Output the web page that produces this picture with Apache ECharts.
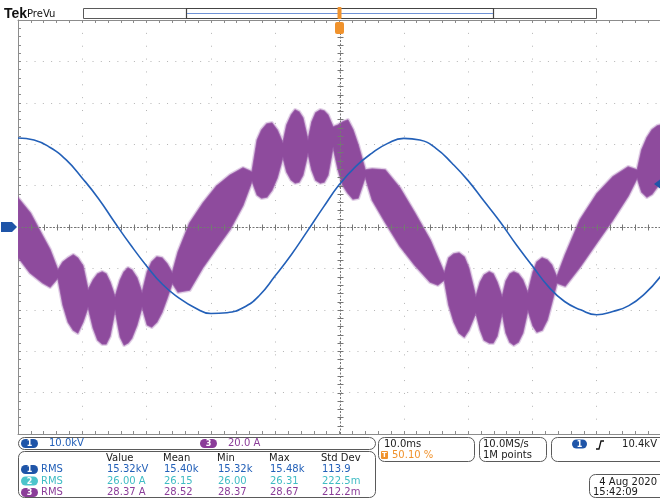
<!DOCTYPE html>
<html>
<head>
<meta charset="utf-8">
<script src="https://cdn.jsdelivr.net/npm/echarts@6/dist/echarts.min.js"></script>
<style>
  html, body { margin: 0; padding: 0; background: #fff; }
  #scope { width: 660px; height: 500px; }
</style>
</head>
<body>
<div id="scope"></div>
<script>
// ---- Channel 1: voltage trace (kV), 2.5 ms sample spacing ----
const ch1Time = [-50, -47.5, -45, -42.5, -40, -37.5, -35, -32.5, -30, -27.5, -25, -22.5, -20, -17.5, -15, -12.5, -10, -7.5, -5, -2.5,
  0, 2.5, 5, 7.5, 10, 12.5, 15, 17.5, 20, 22.5, 25, 27.5, 30, 32.5, 35, 37.5, 40, 42.5, 45, 47.5, 50];
const ch1Kv = [21.5, 21.0, 19.2, 16.2, 11.8, 6.9, 1.2, -4.3, -9.4, -13.9, -17.1, -19.5, -20.9, -20.7, -19.5, -16.6, -11.8, -6.7, -1.0, 4.8,
  10.3, 14.6, 17.8, 20.2, 21.4, 21.0, 19.0, 15.4, 11.2, 6.2, 1.2, -4.3, -9.4, -14.4, -18.0, -20.0, -21.2, -20.4, -19.0, -16.1, -11.8];

// ---- Channel 3: current with switching ripple, upper / lower envelope (A) ----
const ch3Time = [
  -50.0, -48.1, -46.1, -45.0,
  -43.8, -43.0, -42.2, -41.4, -40.7, -39.9, -39.1,
  -38.3, -37.6, -36.9, -36.3, -35.7, -34.9,
  -34.1, -33.5, -32.9, -32.3, -31.5, -30.7,
  -29.9, -29.2, -28.4, -27.6, -26.8, -26.0,
  -25.1, -23.3, -21.2, -19.1, -17.0, -15.0, -13.6,
  -12.8, -12.1, -11.3, -10.5, -9.7, -8.8,
  -8.2, -7.5, -6.9, -6.3, -5.7, -4.9,
  -4.3, -3.7, -3.0, -2.4, -1.8, -1.0,
  -0.2, 0.5, 1.3, 2.1, 2.9, 4.0,
  5.1, 7.1, 9.4, 11.7, 14.1, 15.3, 16.3,
  17.0, 17.8, 18.6, 19.4, 20.1, 21.2,
  21.9, 22.5, 23.3, 23.9, 24.5, 25.3,
  25.9, 26.5, 27.1, 27.8, 28.5, 29.3,
  30.1, 30.7, 31.5, 32.3, 33.0, 33.8,
  35.1, 37.4, 40.0, 42.5, 44.9, 46.3,
  47.0, 47.8, 48.6, 49.4, 50.0];
const ch3Upper = [
  14.0, 6.8, -4.8, -11.1,
  -20.8, -16.9, -15.0, -13.5, -15.0, -18.8, -30.4,
  -25.6, -22.7, -21.7, -22.7, -26.6, -33.8,
  -25.6, -21.7, -19.8, -20.8, -24.6, -31.9,
  -21.7, -16.9, -14.5, -15.0, -17.9, -22.2,
  -12.1, 1.9, 11.6, 19.8, 25.1, 28.5, 26.6,
  42.0, 46.9, 49.8, 50.2, 46.9, 40.6,
  49.3, 54.1, 56.5, 55.6, 52.7, 42.0,
  50.7, 55.1, 56.5, 56.0, 54.1, 48.3,
  49.3, 50.7, 51.7, 46.9, 39.6, 27.5,
  28.0, 27.5, 18.8, 6.8, -6.3, -15.0, -22.2,
  -15.0, -13.0, -12.6, -14.5, -19.8, -33.8,
  -26.6, -23.2, -21.7, -22.7, -26.6, -33.8,
  -26.1, -22.7, -21.7, -22.7, -25.6, -31.9,
  -21.7, -16.9, -15.0, -15.9, -18.4, -24.2,
  -13.5, 3.4, 15.9, 24.2, 29.0, 27.5,
  37.2, 43.0, 46.9, 48.8, 49.3];
const ch3Lower = [
  -14.5, -22.2, -27.1, -29.0,
  -24.6, -37.7, -45.9, -49.8, -51.2, -45.9, -38.6,
  -48.8, -54.6, -56.5, -56.5, -52.7, -40.1,
  -53.1, -57.0, -56.0, -53.6, -47.3, -38.6,
  -47.3, -48.3, -45.9, -41.1, -34.3, -27.1,
  -31.4, -30.4, -19.3, -10.1, -1.0, 10.6, 22.2,
  15.5, 14.0, 14.5, 17.9, 23.7, 33.8,
  26.6, 22.7, 21.3, 21.7, 25.1, 35.7,
  27.5, 22.7, 21.3, 21.7, 25.1, 38.6,
  27.5, 20.3, 16.4, 13.5, 14.0, 24.2,
  13.0, 2.4, -9.2, -18.4, -26.6, -28.0, -25.6,
  -37.7, -45.9, -51.2, -53.1, -49.8, -41.5,
  -49.8, -54.6, -56.0, -56.0, -52.7, -41.5,
  -51.2, -55.6, -57.0, -55.6, -51.2, -40.1,
  -47.8, -50.7, -49.8, -44.9, -36.7, -27.1,
  -28.5, -19.3, -7.7, 3.4, 15.0, 23.7,
  16.9, 14.5, 15.9, 19.3, 22.7];

// ---- Readouts ----
const measHeaders = ['Value', 'Mean', 'Min', 'Max', 'Std Dev'];
const measCh1 = ['15.32kV', '15.40k', '15.32k', '15.48k', '113.9'];
const measCh2 = ['26.00 A', '26.15', '26.00', '26.31', '222.5m'];
const measCh3 = ['28.37 A', '28.52', '28.37', '28.67', '212.2m'];
const ch1Scale = '10.0kV';
const ch3Scale = '20.0 A';
const timeScale = '10.0ms';
const triggerPos = '50.10 %';
const sampleRate = '10.0MS/s';
const recordLen = '1M points';
const triggerLevelText = '10.4kV';
const triggerLevel = 10.4;
const dateText = '4 Aug 2020';
const timeText = '15:42:09';

const BLUE = '#2360b8', CYAN = '#3fbcc4', PURPLE = '#8b3d99', ORANGE = '#f0922c';
const FONT = '10px "DejaVu Sans", sans-serif';
const R = { left: 18, top: 20, width: 643, height: 414 };
// graticule: 10 x 10 divisions, 5 subdivisions each
const X_MIN = -50, X_MAX = 50, X_DIV = 10;   // ms
const V_MIN = -50, V_MAX = 50, V_DIV = 10;   // kV (channel 1)
const SUBDIV = 5;

const chart = echarts.init(document.getElementById('scope'), null, { renderer: 'canvas' });

const BORDER = '#8c8c8c', CENTER = '#767676';
function borderAxis(extra) {
  return Object.assign({
    type: 'value',
    axisLabel: { show: false },
    axisLine: { show: true, onZero: false, lineStyle: { color: BORDER, width: 1 } },
    axisTick: { show: true, inside: true, length: 3, lineStyle: { color: BORDER } },
    minorTick: { show: true, splitNumber: SUBDIV, length: 3, lineStyle: { color: BORDER } },
    splitLine: { show: false }
  }, extra);
}

// centre cross-hair with subdivision ticks, placed through the axis scales
function renderCenterCross(params, api) {
  if (params.dataIndex !== 0) return null;
  const children = [];
  const lineStyle = { stroke: CENTER, lineWidth: 1, lineDash: [2, 1.5] };
  const tickStyle = { stroke: CENTER, lineWidth: 1 };
  const h0 = api.coord([X_MIN, 0]), h1 = api.coord([X_MAX, 0]);
  const v0 = api.coord([0, V_MIN]), v1 = api.coord([0, V_MAX]);
  const yc = Math.round(h0[1]) + 0.5, xc = Math.round(v0[0]) + 0.5;
  children.push({ type: 'line', shape: { x1: h0[0], y1: yc, x2: h1[0], y2: yc }, style: lineStyle });
  children.push({ type: 'line', shape: { x1: xc, y1: v0[1], x2: xc, y2: v1[1] }, style: lineStyle });
  const xStep = X_DIV / SUBDIV, vStep = V_DIV / SUBDIV;
  for (let k = 1; k < (X_MAX - X_MIN) / xStep; k++) {
    const p = api.coord([X_MIN + k * xStep, 0]);
    const x = Math.round(p[0]) + 0.5;
    children.push({ type: 'line', shape: { x1: x, y1: yc - 3, x2: x, y2: yc + 3 }, style: tickStyle });
  }
  for (let k = 1; k < (V_MAX - V_MIN) / vStep; k++) {
    const p = api.coord([0, V_MIN + k * vStep]);
    const y = Math.round(p[1]) + 0.5;
    children.push({ type: 'line', shape: { x1: xc - 3, y1: y, x2: xc + 3, y2: y }, style: tickStyle });
  }
  return { type: 'group', children: children };
}

// current envelope: soft outer fringe + solid body
function renderEnvelope(params, api) {
  if (params.dataIndex !== 0) return null;
  const top = ch3Time.map((t, i) => api.coord([t, ch3Upper[i]]));
  const bottom = ch3Time.map((t, i) => api.coord([t, ch3Lower[i]])).reverse();
  const pts = top.concat(bottom);
  return {
    type: 'group',
    children: [
      { type: 'polygon', shape: { points: pts },
        style: { fill: 'none', stroke: 'rgba(150, 90, 170, 0.28)', lineWidth: 4, lineJoin: 'round' } },
      { type: 'polygon', shape: { points: pts },
        style: { fill: '#8e4b9d', stroke: 'rgba(146, 80, 162, 0.75)', lineWidth: 1.5, lineJoin: 'round' } }
    ]
  };
}

const option = {
  animation: false,
  backgroundColor: '#ffffff',
  grid: [{ left: R.left, top: R.top, width: R.width, height: R.height, outerBoundsMode: 'none' }],
  xAxis: [
    borderAxis({ position: 'bottom', min: X_MIN, max: X_MAX, interval: X_DIV,
      splitLine: { show: true, lineStyle: { color: '#b4b4b4', width: 1, type: [1, 11.86] } } }),
    borderAxis({ position: 'top', min: X_MIN, max: X_MAX, interval: X_DIV })
  ],
  yAxis: [
    borderAxis({ position: 'left', min: V_MIN, max: V_MAX, interval: V_DIV,
      splitLine: { show: true, lineStyle: { color: '#b4b4b4', width: 1, type: [1, 7.28] } } }),
    { type: 'value', position: 'right', min: -100, max: 100, interval: 20, show: false }
  ],
  series: [
    {
      name: 'CH3', type: 'custom', xAxisIndex: 0, yAxisIndex: 1, z: 2, clip: true, silent: true,
      data: ch3Time.map((t, i) => [t, ch3Upper[i], ch3Lower[i]]),
      encode: { x: 0, y: [1, 2] },
      renderItem: renderEnvelope
    },
    {
      name: 'graticule', type: 'custom', xAxisIndex: 0, yAxisIndex: 0, z: 6, clip: false, silent: true,
      data: [[0, 0]],
      renderItem: renderCenterCross
    },
    {
      name: 'CH1', type: 'line', xAxisIndex: 0, yAxisIndex: 0, z: 8,
      data: ch1Time.map((t, i) => [t, ch1Kv[i]]),
      smooth: 0.5, showSymbol: false, silent: true,
      lineStyle: { color: BLUE, width: 1.6 }
    }
  ]
};
chart.setOption(option);

// ---- Overlay: header, markers and readout panel ----
function txt(x, y, s, color, opts) {
  return { type: 'text', x: x, y: y, silent: true, z: 20,
    style: Object.assign({ text: s, fill: color, font: FONT, align: 'left', verticalAlign: 'middle' }, opts || {}) };
}
function box(x, y, w, h, r) {
  return { type: 'rect', silent: true, z: 19, shape: { x: x, y: y, width: w, height: h, r: r },
    style: { fill: 'none', stroke: '#5a5a5a', lineWidth: 1 } };
}
function pill(x, yc, w, h, color, label) {
  return [
    { type: 'rect', silent: true, z: 20, shape: { x: x, y: yc - h / 2, width: w, height: h, r: h / 2 }, style: { fill: color } },
    txt(x + w / 2, yc + 0.5, label, '#fff', { align: 'center', font: 'bold 8px "DejaVu Sans", sans-serif' })
  ];
}

const gnd = chart.convertToPixel({ xAxisIndex: 0, yAxisIndex: 0 }, [X_MIN, 0]);
const lvl = chart.convertToPixel({ xAxisIndex: 0, yAxisIndex: 0 }, [X_MAX, triggerLevel]);
const trg = chart.convertToPixel({ xAxisIndex: 0, yAxisIndex: 0 }, [0, 0]);
const gy = gnd[1], tx = trg[0];

const g = [];
// header
g.push(txt(4, 14.5, 'Tek', '#111', { font: 'bold 14px "Liberation Sans Narrow", "Liberation Sans", sans-serif' }));
g.push(txt(27, 14, 'PreVu', '#111', { font: FONT }));
g.push(box(83.5, 8.5, 513, 10, 0));
g.push({ type: 'rect', silent: true, z: 19, shape: { x: 186.5, y: 8.5, width: 307, height: 10 },
  style: { fill: 'none', stroke: '#444', lineWidth: 1.2 } });
g.push({ type: 'line', silent: true, z: 19, shape: { x1: 187, y1: 13.5, x2: 493, y2: 13.5 },
  style: { stroke: '#6f93d6', lineWidth: 1.2 } });
// trigger position marks
g.push({ type: 'rect', silent: true, z: 21, shape: { x: tx - 2, y: 7, width: 4, height: 12, r: 1 }, style: { fill: ORANGE } });
g.push({ type: 'rect', silent: true, z: 21, shape: { x: tx - 4.5, y: 22, width: 9, height: 12, r: 2 }, style: { fill: ORANGE } });
g.push(txt(tx, 28.5, 'T', '#fff', { align: 'center', font: 'bold 9px "DejaVu Sans", sans-serif' }));
// channel 1 ground marker
g.push({ type: 'polygon', silent: true, z: 21,
  shape: { points: [[1, gy - 5], [12, gy - 5], [17, gy], [12, gy + 5], [1, gy + 5]] }, style: { fill: '#1f55a8' } });
g.push(txt(7, gy + 0.5, '1', '#fff', { align: 'center', font: 'bold 8px "DejaVu Sans", sans-serif' }));
// trigger level marker
g.push({ type: 'polygon', silent: true, z: 21,
  shape: { points: [[660, lvl[1] - 4.5], [654, lvl[1]], [660, lvl[1] + 4.5]] }, style: { fill: '#1f55a8' } });

// channel scale row
g.push(box(18.5, 437.5, 357, 12, 6));
g.push.apply(g, pill(21, 443.5, 17, 9, '#1f55a8', '1'));
g.push(txt(49, 443.5, ch1Scale, BLUE));
g.push.apply(g, pill(200, 443.5, 17, 9, PURPLE, '3'));
g.push(txt(228, 443.5, ch3Scale, PURPLE));

// measurement table
g.push(box(18.5, 451.5, 357, 46, 6));
const colX = [106, 163, 217, 269, 321];
measHeaders.forEach((h, i) => g.push(txt(colX[i], 458, h, '#1a1a1a')));
const rows = [
  { y: 469.5, label: '1', color: BLUE, pillColor: '#1f55a8', vals: measCh1 },
  { y: 481, label: '2', color: CYAN, pillColor: '#4cc4cb', vals: measCh2 },
  { y: 492.5, label: '3', color: PURPLE, pillColor: PURPLE, vals: measCh3 }
];
rows.forEach(r => {
  g.push.apply(g, pill(21, r.y, 17, 9, r.pillColor, r.label));
  g.push(txt(41, r.y, 'RMS', r.color));
  r.vals.forEach((v, i) => g.push(txt(colX[i] + 1, r.y, v, r.color)));
});

// timebase
g.push(box(378.5, 437.5, 96, 24, 6));
g.push(txt(384, 444, timeScale, '#1a1a1a'));
g.push({ type: 'rect', silent: true, z: 20, shape: { x: 381, y: 451, width: 7, height: 8, r: 1 }, style: { fill: ORANGE } });
g.push(txt(384.5, 455.5, 'T', '#fff', { align: 'center', font: 'bold 7px "DejaVu Sans", sans-serif' }));
g.push(txt(392, 455, triggerPos, ORANGE));
// acquisition
g.push(box(479.5, 437.5, 67, 24, 6));
g.push(txt(483, 444, sampleRate, '#1a1a1a'));
g.push(txt(483, 455, recordLen, '#1a1a1a'));
// trigger
g.push(box(551.5, 437.5, 120, 24, 6));
g.push.apply(g, pill(572, 444, 15, 9, '#1f55a8', '1'));
g.push({ type: 'polyline', silent: true, z: 20,
  shape: { points: [[596, 449], [599, 449], [601, 441], [604, 441]] }, style: { stroke: '#111', lineWidth: 1.3 } });
g.push(txt(657, 444, triggerLevelText, '#1a1a1a', { align: 'right' }));
// date / time
g.push(box(589.5, 474.5, 80, 23, 6));
g.push(txt(657, 482, dateText, '#1a1a1a', { align: 'right' }));
g.push(txt(593, 492.5, timeText, '#1a1a1a'));

chart.setOption({ graphic: g });
</script>
</body>
</html>
